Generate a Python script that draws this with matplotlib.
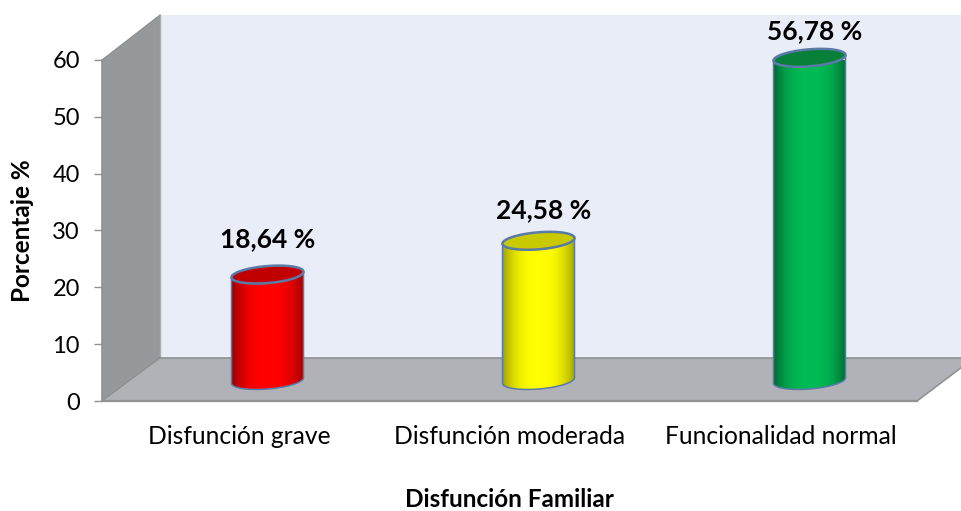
import matplotlib
matplotlib.use('Agg')
import matplotlib.pyplot as plt
from matplotlib.colors import LinearSegmentedColormap
from matplotlib.patches import Polygon
import numpy as np

categories = ['Disfunción grave', 'Disfunción moderada', 'Funcionalidad normal']
values = [18.64, 24.58, 56.78]
value_labels = ['18,64 %', '24,58 %', '56,78 %']
y_ticks = [0, 10, 20, 30, 40, 50, 60]

body_colors = [('#9c0000', '#ff0000'), ('#a3a300', '#ffff00'), ('#006a32', '#00bb55')]
top_colors = ['#c00000', '#c9c900', '#098039']
label_shift = [(0, 35), (5, 31), (5, 27)]

plt.rcParams['font.family'] = ['Lato', 'DejaVu Sans']

W, H = 962, 511
fig = plt.figure(figsize=(W / 100, H / 100), dpi=100)

# y axis: 0 at pixel 401, 60 at pixel 60; categories 271 px apart
PX_Y = (401 - 60) / 60
PX_X = 271
X0 = 267.5
ax = fig.add_axes([102 / W, (H - 401) / H, (W - 102) / W, 341 / H])
xlim = ((102 - X0) / PX_X, (W - X0) / PX_X)
ylim = (0, 60)


def px(x, y):
    return (x - X0) / PX_X, (401 - y) / PX_Y


wall_color = '#e9edf8'
line_color = '#8f9193'

ax.add_patch(Polygon([px(160, 15), px(W, 15), px(W, 358), px(160, 358)], closed=True,
                     fc=wall_color, ec='none', clip_on=False, zorder=1))
left = Polygon([px(102, 60), px(160, 15), px(160, 358), px(102, 401)], closed=True,
               fc='#96999c', ec='none', clip_on=False, zorder=2)
ax.add_patch(left)
ax.add_patch(Polygon([px(102, 401), px(160, 358), px(W, 358), px(W, 367), px(917, 401)], closed=True,
                     fc='#b0b2b8', ec='none', clip_on=False, zorder=2))

ax.plot(*zip(px(160, 15), px(160, 358)), color='#a9abae', lw=1, zorder=3, clip_on=False)
ax.plot(*zip(px(160, 358), px(W, 358)), color=line_color, lw=1.2, zorder=3, clip_on=False)
ax.plot(*zip(px(102, 401), px(160, 358)), color='#8a8c8e', lw=0.8, zorder=3, clip_on=False)
ax.plot(*zip(px(102, 401), px(917, 401)), color=line_color, lw=1.6, zorder=3, clip_on=False)
ax.plot(*zip(px(917, 401), px(W, 367)), color=line_color, lw=1.2, zorder=3, clip_on=False)
ax.plot(*zip(px(102, 60), px(102, 401)), color=line_color, lw=1.2, zorder=3, clip_on=False)
ax.plot(*zip(px(102, 60), px(160, 15)), color='#8a8c8e', lw=0.8, zorder=3, clip_on=False)

# cylinders
half_w = 36 / PX_X
base = 20.5 / PX_Y
minor = 8.5 / PX_Y
shear = 2.8 / PX_Y
outline = '#5a7aa8'
t = np.linspace(0, 2 * np.pi, 200)

for i, v in enumerate(values):
    ex = i + half_w * np.cos(t)
    ey = minor * np.sin(t) + shear * np.cos(t)
    front = np.sin(t) <= 0
    order = np.argsort(np.cos(t[front]))
    xf = ex[front][order]
    yf = ey[front][order]
    body_x = np.concatenate([xf, xf[::-1]])
    body_y = np.concatenate([yf + base, yf[::-1] + base + v])
    body = Polygon(np.column_stack([body_x, body_y]), closed=True, fc='none',
                   ec=outline, lw=1.1, zorder=6, clip_on=False)
    ax.add_patch(body)
    grad = np.abs(np.linspace(-1, 1, 256)) ** 2.6
    img = ax.imshow(1 - grad[None, :], cmap=LinearSegmentedColormap.from_list(
        'c', [body_colors[i][0], body_colors[i][1]]), aspect='auto', zorder=5,
        extent=(i - half_w, i + half_w, base - minor * 2, base + v + minor * 2))
    img.set_clip_path(body)
    ax.fill(ex, ey + base + v, fc=top_colors[i], ec=outline, lw=1.8, zorder=7, clip_on=False)
    ax.annotate(value_labels[i], (i, base + v), xytext=label_shift[i], textcoords='offset pixels',
                ha='center', va='center', fontsize=19, fontweight='bold', color='black',
                zorder=8, annotation_clip=False)

ax.set_xlim(xlim)
ax.set_ylim(ylim)
ax.patch.set_visible(False)
for s in ax.spines.values():
    s.set_visible(False)

ax.set_yticks(y_ticks)
ax.tick_params(axis='y', length=6, width=1, color=line_color, labelsize=17, pad=10)
# category labels sit left of the cylinders in the original
ax.set_xticks(np.arange(len(categories)) - 28.5 / PX_X, categories)
ax.tick_params(axis='x', length=0, labelsize=17.7, pad=17)

fig.text(509 / W, 1 - 499 / H, 'Disfunción Familiar', ha='center', va='center',
         fontsize=17.5, fontweight='bold')
fig.text(23 / W, 1 - 231 / H, 'Porcentaje %', ha='center', va='center', rotation=90,
         fontsize=17.5, fontweight='bold')

fig.savefig('out.png', dpi=100)
